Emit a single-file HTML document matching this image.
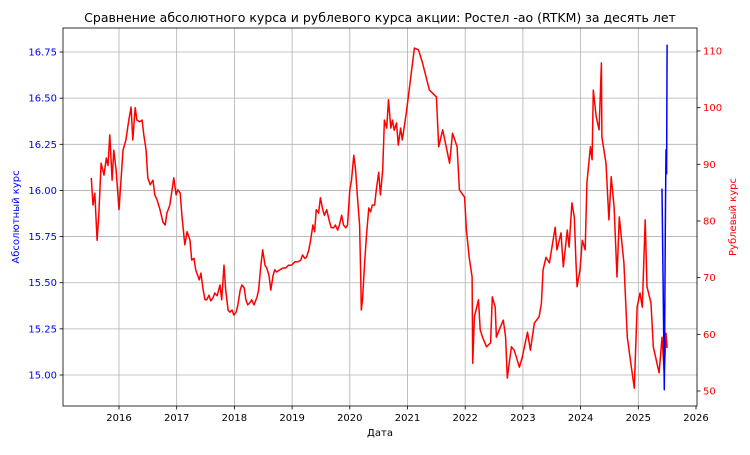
<!DOCTYPE html>
<html><head><meta charset="utf-8"><style>
body{margin:0;background:#fff;}
svg text{font-family:"DejaVu Sans","Liberation Sans",sans-serif;}
</style></head><body>
<svg id="chart" width="750" height="450" xmlns="http://www.w3.org/2000/svg">
<text x="380" y="22" font-size="12.5" text-anchor="middle">Сравнение абсолютного курса и рублевого курса акции: Ростел -ао (RTKM) за десять лет</text>
<text x="380" y="436" font-size="10" text-anchor="middle">Дата</text>
<text transform="translate(19,217) rotate(-90)" font-size="10" fill="blue" text-anchor="middle">Абсолютный курс</text>
<text transform="translate(736,217) rotate(-90)" font-size="10" fill="red" text-anchor="middle">Рублевый курс</text>
<g id="grid"></g>
<g id="series"></g>
<g id="axes"></g>
</svg>
<script>
const xTicks = [2016,2017,2018,2019,2020,2021,2022,2023,2024,2025,2026];
const leftTicks = [15.00,15.25,15.50,15.75,16.00,16.25,16.50,16.75];
const rightTicks = [50,60,70,80,90,100,110];
const rubDates = [2015.52,2015.55,2015.58,2015.62,2015.65,2015.69,2015.74,2015.78,2015.81,2015.84,
2015.88,2015.91,2015.95,2016.00,2016.03,2016.07,2016.12,2016.17,2016.21,2016.24,
2016.28,2016.31,2016.36,2016.40,2016.43,2016.47,2016.50,2016.54,2016.59,2016.62,
2016.66,2016.71,2016.76,2016.80,2016.83,2016.88,2016.92,2016.95,2016.99,2017.02,
2017.06,2017.09,2017.14,2017.18,2017.23,2017.26,2017.30,2017.33,2017.39,2017.42,
2017.46,2017.49,2017.52,2017.56,2017.59,2017.63,2017.66,2017.70,2017.75,2017.78,
2017.82,2017.85,2017.89,2017.92,2017.96,2017.99,2018.03,2018.06,2018.10,2018.13,
2018.17,2018.20,2018.23,2018.27,2018.30,2018.34,2018.39,2018.42,2018.46,2018.49,
2018.53,2018.56,2018.60,2018.63,2018.67,2018.70,2018.73,2018.79,2018.84,2018.89,
2018.94,2018.99,2019.05,2019.10,2019.15,2019.18,2019.22,2019.25,2019.29,2019.32,
2019.36,2019.39,2019.42,2019.46,2019.49,2019.53,2019.56,2019.60,2019.65,2019.68,
2019.72,2019.75,2019.79,2019.82,2019.86,2019.89,2019.93,2019.96,2020.00,2020.03,
2020.07,2020.10,2020.13,2020.17,2020.19,2020.20,2020.22,2020.26,2020.29,2020.33,
2020.36,2020.39,2020.43,2020.46,2020.50,2020.53,2020.57,2020.60,2020.64,2020.67,
2020.71,2020.74,2020.77,2020.81,2020.84,2020.88,2020.91,
2020.98,2021.12,2021.19,2021.26,2021.38,2021.50,2021.54,2021.61,2021.73,2021.78,
2021.86,2021.90,2021.99,2022.02,2022.07,2022.12,2022.13,2022.16,2022.23,2022.26,
2022.30,2022.37,2022.44,2022.47,2022.52,2022.54,2022.59,2022.66,2022.70,2022.73,
2022.80,2022.85,2022.94,2022.99,2023.08,2023.13,2023.20,2023.28,2023.32,2023.35,
2023.40,2023.46,2023.56,2023.59,2023.66,2023.70,2023.77,2023.80,2023.85,2023.89,
2023.92,2023.94,2023.99,2024.03,2024.08,2024.11,2024.17,2024.20,2024.22,2024.27,
2024.32,2024.36,2024.37,2024.44,2024.49,2024.53,2024.58,2024.63,2024.67,2024.75,
2024.81,2024.87,2024.93,2024.98,2025.03,2025.07,2025.12,2025.15,2025.22,2025.26,
2025.31,2025.36,2025.41,2025.45,2025.48,2025.50];
const rubValues = [87.6,82.8,84.9,76.6,81,90.2,88.1,91.1,89.8,95.2,
87.2,92.5,89,82,86.4,92.5,94.3,97.8,100.1,94.3,
100,97.8,97.5,97.8,95.2,92.5,87.6,86.4,87.2,84.6,
83.7,82,79.8,79.3,81.4,82.8,85.5,87.6,84.6,85.5,
84.9,81,75.8,78.1,76.6,73.1,73.4,71.4,69.6,70.8,
67.8,66.1,66.1,66.9,65.9,66.5,67.3,66.8,68.7,66.1,
72.2,67.8,64.3,63.9,64.3,63.4,63.9,65.2,67.8,68.7,
68.2,66.1,65.2,65.6,66.1,65.2,66.5,67.8,72.2,74.9,
72.2,71.7,70.4,67.8,70.4,71.4,71,71.4,71.7,71.7,
72.2,72.2,72.8,72.8,73.1,74,73.4,73.6,74.9,76.6,
79.3,78.1,82,81.4,84.1,82,81,82,79.8,78.8,
78.8,79.3,78.4,79.3,81,79.3,78.8,79.3,85.5,87.2,
91.6,89,84.6,79.3,69.6,64.3,66.1,73.1,77.5,82.3,
81.6,82.8,82.8,85.5,88.6,84.6,89,97.8,96.4,101.4,
96.4,97.8,96,97.3,93.4,96.4,94.3,
99.1,110.5,110.2,107.9,103.1,101.9,93.1,96.1,90.2,95.5,
93.1,85.5,84.2,78.4,73.6,70.1,54.9,63.1,66.1,60.8,
59.5,57.8,58.5,66.6,64.8,59.5,60.8,62.5,59.5,52.3,
57.8,57.2,54.2,56,60.4,57.2,62,63.1,65.5,71.4,
73.6,72.6,78.9,74.9,77.9,71.9,78.4,75.4,83.2,80.7,
72.6,68.4,71.4,76.6,74.9,86.7,93.1,90.8,103.1,98.4,
96.1,107.9,94.8,90.2,80.2,87.8,82.5,70.1,80.7,72.6,
59.5,54.9,50.5,64.8,67.3,64.8,80.2,68.4,65.5,57.8,
55.5,53.2,59.5,53.2,60.2,57.6];
const absDates = [2025.41,2025.43,2025.45,2025.47,2025.48,2025.49,2025.50];
const absValues = [16.01,15.50,14.92,15.86,16.22,16.09,16.79];

const L=63,R=697,T=28,B=406;
const xS = y => 119 + (y-2016)*57.7;
const yL = v => 375 - (v-15)/0.25*46.14;
const yR = v => 391 - (v-50)*5.667;
const NS="http://www.w3.org/2000/svg";
function mk(tag, parent, attrs){const e=document.createElementNS(NS,tag);for(const k in attrs)e.setAttribute(k,attrs[k]);parent.appendChild(e);return e;}
const grid=document.getElementById('grid'), axes=document.getElementById('axes'), series=document.getElementById('series');

xTicks.forEach(t=>{
  const x=xS(t);
  if(x<R-1){const g=mk('line',grid,{x1:x,x2:x,y1:T,y2:B,stroke:'#b0b0b0','stroke-width':0.8});
  
  }
  mk('line',axes,{x1:x,x2:x,y1:B,y2:B+3.5,stroke:'#000','stroke-width':0.8});
  const tx=mk('text',axes,{x:x,y:B+15,'font-size':10,'text-anchor':'middle'});tx.textContent=t;
  
  
});
leftTicks.forEach(t=>{
  const y=yL(t);
  const g=mk('line',grid,{x1:L,x2:R,y1:y,y2:y,stroke:'#b0b0b0','stroke-width':0.8});
  
  
  mk('line',axes,{x1:L-3.5,x2:L,y1:y,y2:y,stroke:'#000','stroke-width':0.8});
  const tx=mk('text',axes,{x:L-6,y:y+3.5,'font-size':10,'text-anchor':'end',fill:'blue'});tx.textContent=t.toFixed(2);
  
  
});
rightTicks.forEach(t=>{
  const y=yR(t);
  mk('line',axes,{x1:R,x2:R+3.5,y1:y,y2:y,stroke:'#000','stroke-width':0.8});
  const tx=mk('text',axes,{x:R+6,y:y+3.5,'font-size':10,'text-anchor':'start',fill:'red'});tx.textContent=t;
  
  
});
const frame=mk('rect',axes,{x:L,y:T,width:R-L,height:B-T,fill:'none',stroke:'#000','stroke-width':0.8});



const n=Math.min(rubDates.length,rubValues.length);
let d='';for(let i=0;i<n;i++)d+=(i?'L':'M')+xS(rubDates[i]).toFixed(1)+','+yR(rubValues[i]).toFixed(1);
const rl=mk('path',series,{d:d,fill:'none',stroke:'red','stroke-width':1.5,'stroke-linejoin':'round'});


let d2='';for(let i=0;i<absDates.length;i++)d2+=(i?'L':'M')+xS(absDates[i]).toFixed(1)+','+yL(absValues[i]).toFixed(1);
const bl=mk('path',series,{d:d2,fill:'none',stroke:'blue','stroke-width':1.5,'stroke-linejoin':'round'});


</script>
</body></html>
